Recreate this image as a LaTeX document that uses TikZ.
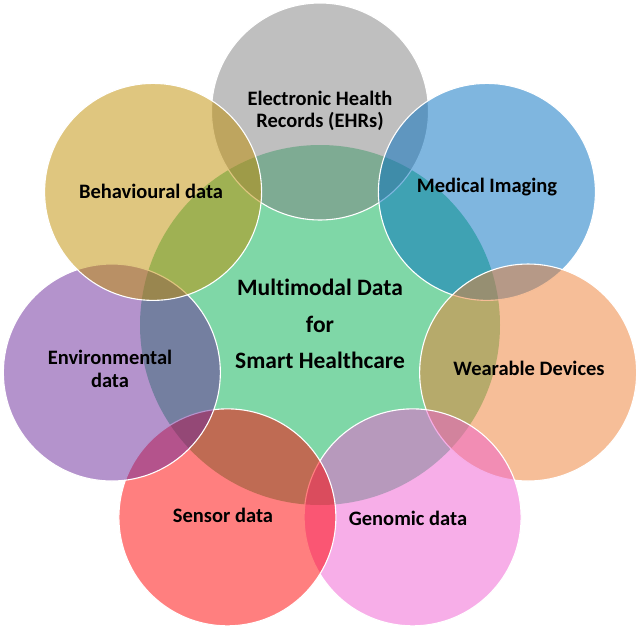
\documentclass[tikz,border=0pt]{standalone}
\usepackage{fontspec}
\setmainfont{Carlito}[Ligatures=NoCommon]
\usetikzlibrary{calc}
\definecolor{cgreen}{RGB}{0,176,80}
\definecolor{cgray}{RGB}{127,127,127}
\definecolor{cblue}{RGB}{0,110,192}
\definecolor{corange}{RGB}{237,125,49}
\definecolor{cpink}{RGB}{239,93,209}
\definecolor{cred}{RGB}{255,0,0}
\definecolor{cpurple}{RGB}{106,40,154}
\definecolor{ctan}{RGB}{191,141,0}
\tikzset{
  outer/.style={circle, minimum size=217pt, inner sep=0pt, fill opacity=0.5, draw=white, line width=1.1pt},
  hub/.style={circle, minimum size=360pt, inner sep=0pt, fill=cgreen, fill opacity=0.5},
  lbl/.style={align=center, text=black, inner sep=0pt, font=\fontsize{20.5}{22.5}\selectfont\bfseries},
  hublbl/.style={align=center, text=black, inner sep=0pt, font=\fontsize{23.5}{36.5}\selectfont\bfseries}
}
\begin{document}
\begin{tikzpicture}[x=1pt,y=-1pt]
\useasboundingbox (0,0) rectangle (640,629);
\coordinate (c) at (320,325);
\node[hub] (hub) at (c) {};
\node[outer, fill=cgray]   (ehr) at ($(c)+(-90:213.5)$)      {};
\node[outer, fill=cblue]   (img) at ($(c)+(-38.57:213.5)$)   {};
\node[outer, fill=corange] (wear) at ($(c)+(12.86:213.5)$) {};
\node[outer, fill=cpink]   (gen) at ($(c)+(64.29:213.5)$)  {};
\node[outer, fill=cred]    (sen) at ($(c)+(115.71:213.5)$) {};
\node[outer, fill=cpurple] (env) at ($(c)+(167.14:213.5)$) {};
\node[outer, fill=ctan]    (beh) at ($(c)+(-141.43:213.5)$)  {};
\node[hublbl] (thub) at (320,324) {Multimodal Data\\for\\Smart Healthcare};
\node[lbl] (tehr) at (320,111) {Electronic Health\\Records (EHRs)};
\node[lbl] (timg) at (487,187) {Medical Imaging};
\node[lbl] (twear) at (529,368) {Wearable Devices};
\node[lbl] (tgen) at (408,518) {Genomic data};
\node[lbl] (tsen) at (223,515) {Sensor data};
\node[lbl] (tenv) at (110,369) {Environmental\\data};
\node[lbl] (tbeh) at (151,191) {Behavioural data};
\end{tikzpicture}
\end{document}
